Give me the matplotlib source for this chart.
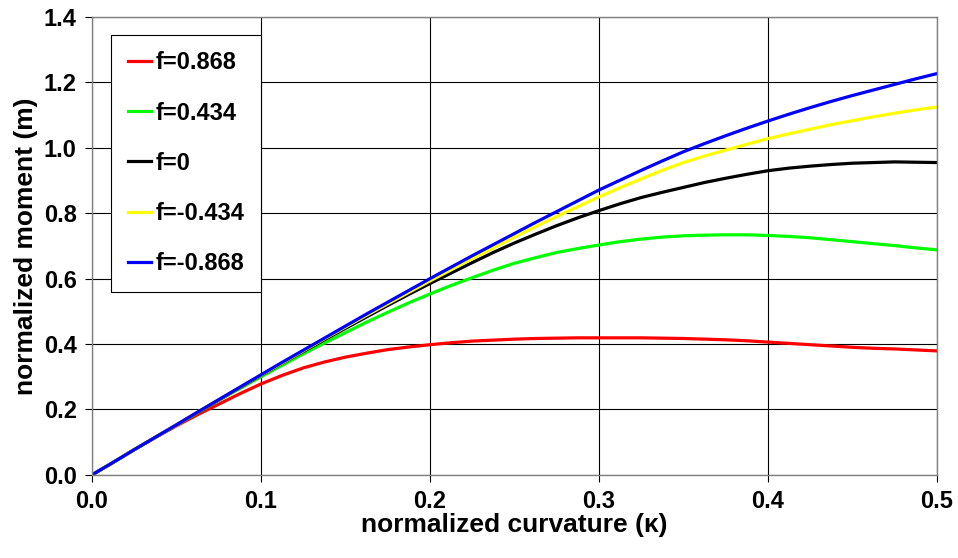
import matplotlib.pyplot as plt
import numpy as np

plt.rcParams['font.family'] = ['Liberation Sans', 'DejaVu Sans']

# 曲率(横坐标)
kappa = [0, 0.0125, 0.025, 0.0375, 0.05, 0.0625, 0.075, 0.0875, 0.1, 0.1125,
         0.125, 0.1375, 0.15, 0.1625, 0.175, 0.1875, 0.2, 0.2125, 0.225, 0.2375,
         0.25, 0.2625, 0.275, 0.2875, 0.3, 0.3125, 0.325, 0.3375, 0.35, 0.3625,
         0.375, 0.3875, 0.4, 0.4125, 0.425, 0.4375, 0.45, 0.4625, 0.475, 0.4875, 0.5]

# 各轴力比下的弯矩
m_p868 = [0, 0.038, 0.077, 0.114, 0.150, 0.184, 0.216, 0.248, 0.278, 0.304,
          0.327, 0.345, 0.360, 0.372, 0.383, 0.391, 0.398, 0.404, 0.409, 0.412,
          0.415, 0.417, 0.418, 0.419, 0.419, 0.419, 0.419, 0.418, 0.417, 0.415,
          0.413, 0.410, 0.406, 0.402, 0.398, 0.394, 0.390, 0.387, 0.385, 0.382, 0.379]
m_p434 = [0, 0.038, 0.077, 0.115, 0.152, 0.190, 0.228, 0.264, 0.300, 0.335,
          0.370, 0.403, 0.435, 0.467, 0.497, 0.526, 0.553, 0.579, 0.603, 0.626,
          0.647, 0.664, 0.680, 0.692, 0.703, 0.713, 0.721, 0.727, 0.731, 0.733,
          0.734, 0.734, 0.732, 0.729, 0.725, 0.719, 0.713, 0.707, 0.701, 0.694, 0.688]
m_0 = [0, 0.038, 0.077, 0.115, 0.153, 0.191, 0.229, 0.267, 0.304, 0.341,
       0.377, 0.413, 0.448, 0.483, 0.518, 0.552, 0.585, 0.617, 0.649, 0.680,
       0.709, 0.736, 0.762, 0.786, 0.808, 0.829, 0.848, 0.864, 0.879, 0.894,
       0.907, 0.919, 0.930, 0.938, 0.944, 0.949, 0.953, 0.955, 0.957, 0.956, 0.955]
m_n434 = [0, 0.038, 0.077, 0.115, 0.153, 0.192, 0.230, 0.268, 0.305, 0.342,
          0.379, 0.416, 0.452, 0.488, 0.523, 0.558, 0.593, 0.627, 0.661, 0.694,
          0.727, 0.759, 0.790, 0.820, 0.850, 0.878, 0.905, 0.931, 0.955, 0.975,
          0.993, 1.011, 1.028, 1.043, 1.057, 1.071, 1.083, 1.095, 1.106, 1.116, 1.125]
m_n868 = [0, 0.038, 0.077, 0.115, 0.153, 0.192, 0.230, 0.268, 0.306, 0.344,
          0.381, 0.418, 0.455, 0.492, 0.528, 0.564, 0.600, 0.635, 0.670, 0.704,
          0.738, 0.772, 0.805, 0.838, 0.871, 0.901, 0.931, 0.960, 0.988, 1.013,
          1.037, 1.060, 1.082, 1.103, 1.123, 1.142, 1.160, 1.177, 1.194, 1.211, 1.227]

labels = ['f=0.868', 'f=0.434', 'f=0', 'f=-0.434', 'f=-0.868']
colors = ['#ff0000', '#00ff00', '#000000', '#ffff00', '#0000ff']

fig = plt.figure(figsize=(9.58, 5.58), dpi=100)
ax = fig.add_axes([0.096, 0.149, 0.882, 0.8205])

for m, lab, c in zip([m_p868, m_p434, m_0, m_n434, m_n868], labels, colors):
    ax.plot(kappa, m, color=c, linewidth=2.3, label=lab)

ax.set_xlim(0, 0.5)
ax.set_ylim(0, 1.4)
ax.set_xticks(np.arange(0, 0.51, 0.1))
ax.set_yticks(np.arange(0, 1.41, 0.2))
ax.set_xticklabels(['0.0', '0.1', '0.2', '0.3', '0.4', '0.5'])
ax.set_yticklabels(['0.0', '0.2', '0.4', '0.6', '0.8', '1.0', '1.2', '1.4'])
ax.grid(True, color='black', linewidth=0.8)
ax.set_axisbelow(True)
for s in ax.spines.values():
    s.set_color('#808080')
    s.set_linewidth(1.0)
ax.tick_params(direction='out', length=5, width=0.8, labelsize=17, pad=6)
for t in ax.get_xticklabels() + ax.get_yticklabels():
    t.set_fontweight('bold')

ax.set_xlabel('normalized curvature (κ)', fontsize=19, fontweight='bold', labelpad=0)
ax.set_ylabel('normalized moment (m)', fontsize=19, fontweight='bold', labelpad=4)

leg = ax.legend(loc='upper left', bbox_to_anchor=(0.0225, 0.961), fancybox=False,
                edgecolor='black', framealpha=1, prop={'weight': 'bold', 'size': 17},
                labelspacing=1.15, handlelength=1.0, handletextpad=0.2,
                borderpad=0.7, borderaxespad=0)
leg.get_frame().set_linewidth(0.8)

plt.savefig('out.png', dpi=100)
